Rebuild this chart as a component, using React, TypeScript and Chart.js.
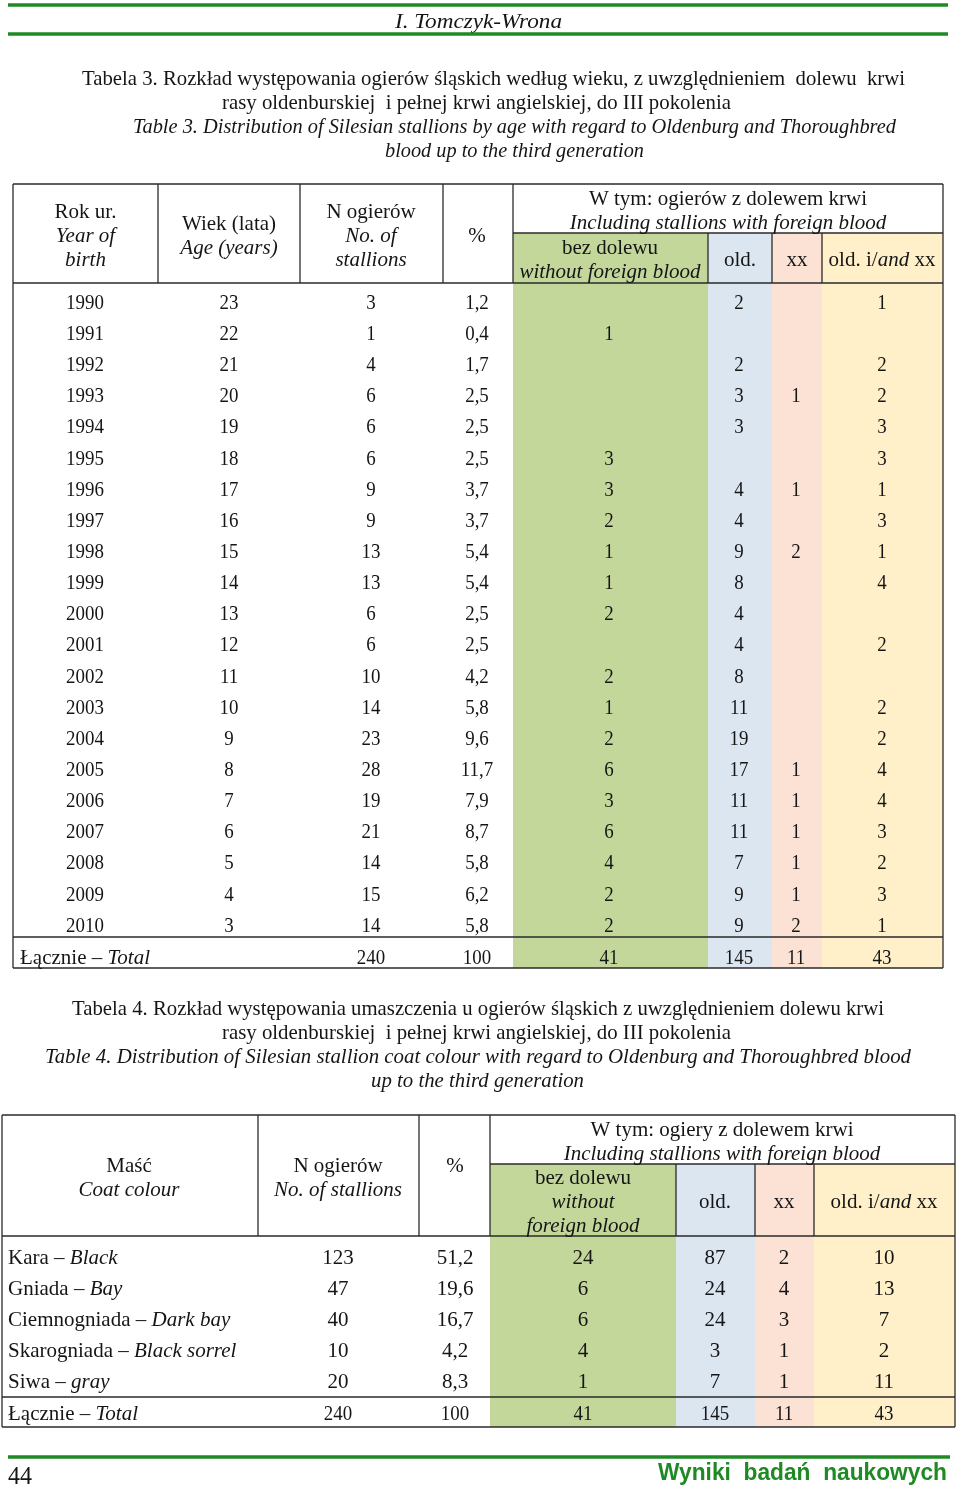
import React, { useEffect, useRef } from "react";
import { Chart, registerables } from "chart.js";

Chart.register(...registerables);

// ---------------- DATA ----------------
const pageAuthor = "I. Tomczyk-Wrona";
const pageNumber = "44";
const pageFooter = "Wyniki  badań  naukowych";

const t3Caption = [
  "Tabela 3. Rozkład występowania ogierów śląskich według wieku, z uwzględnieniem  dolewu  krwi",
  "rasy oldenburskiej  i pełnej krwi angielskiej, do III pokolenia",
  "Table 3. Distribution of Silesian stallions by age with regard to Oldenburg and Thoroughbred",
  "blood up to the third generation",
];
const t3Years = ["1990", "1991", "1992", "1993", "1994", "1995", "1996", "1997", "1998", "1999", "2000", "2001", "2002", "2003", "2004", "2005", "2006", "2007", "2008", "2009", "2010"];
const t3Ages = [23, 22, 21, 20, 19, 18, 17, 16, 15, 14, 13, 12, 11, 10, 9, 8, 7, 6, 5, 4, 3];
const t3N = [3, 1, 4, 6, 6, 6, 9, 9, 13, 13, 6, 6, 10, 14, 23, 28, 19, 21, 14, 15, 14];
const t3Pct = ["1,2", "0,4", "1,7", "2,5", "2,5", "2,5", "3,7", "3,7", "5,4", "5,4", "2,5", "2,5", "4,2", "5,8", "9,6", "11,7", "7,9", "8,7", "5,8", "6,2", "5,8"];
const t3Without = [null, 1, null, null, null, 3, 3, 2, 1, 1, 2, null, 2, 1, 2, 6, 3, 6, 4, 2, 2];
const t3Old = [2, null, 2, 3, 3, null, 4, 4, 9, 8, 4, 4, 8, 11, 19, 17, 11, 11, 7, 9, 9];
const t3XX = [null, null, null, 1, null, null, 1, null, 2, null, null, null, null, null, null, 1, 1, 1, 1, 1, 2];
const t3OldXX = [1, null, 2, 2, 3, 3, 1, 3, 1, 4, null, 2, null, 2, 2, 4, 4, 3, 2, 3, 1];
const t3Total = ["240", "100", "41", "145", "11", "43"];

const t4Caption = [
  "Tabela 4. Rozkład występowania umaszczenia u ogierów śląskich z uwzględnieniem dolewu krwi",
  "rasy oldenburskiej  i pełnej krwi angielskiej, do III pokolenia",
  "Table 4. Distribution of Silesian stallion coat colour with regard to Oldenburg and Thoroughbred blood",
  "up to the third generation",
];
const t4ColoursPl = ["Kara", "Gniada", "Ciemnogniada", "Skarogniada", "Siwa"];
const t4ColoursEn = ["Black", "Bay", "Dark bay", "Black sorrel", "gray"];
const t4N = [123, 47, 40, 10, 20];
const t4Pct = ["51,2", "19,6", "16,7", "4,2", "8,3"];
const t4Without = [24, 6, 6, 4, 1];
const t4Old = [87, 24, 24, 3, 7];
const t4XX = [2, 4, 3, 1, 1];
const t4OldXX = [10, 13, 7, 2, 11];
const t4Total = ["240", "100", "41", "145", "11", "43"];

// ---------------- STYLE / LAYOUT ----------------
const SERIF = '"Liberation Serif", "Times New Roman", serif';
const SANS = '"Liberation Sans", Arial, sans-serif';
const GREEN = "#1f8a23";
const INK = "#151515";
const LINE = "#2a2a2a";
const FILL_GREEN = "#c4d79b";
const FILL_BLUE = "#dce6f1";
const FILL_PINK = "#fce1d5";
const FILL_YELLOW = "#fff0c9";
const TEXT_DY = 2;
const BASE_SIZE = 21;

type Run = [string, boolean];

const pagePlugin = {
  id: "pagePlugin",
  afterDraw(chart: any) {
    const ctx: CanvasRenderingContext2D = chart.ctx;
    const xs = chart.scales.x;
    const ys = chart.scales.y;
    const X = (v: number) => xs.getPixelForValue(v);
    const Y = (v: number) => ys.getPixelForValue(v);

    const rect = (x0: number, y0: number, x1: number, y1: number, color: string) => {
      ctx.fillStyle = color;
      ctx.fillRect(X(x0), Y(y0), X(x1) - X(x0), Y(y1) - Y(y0));
    };
    const hline = (x0: number, x1: number, y: number, w = 1.3, color = LINE) => {
      ctx.strokeStyle = color;
      ctx.lineWidth = w;
      ctx.beginPath();
      ctx.moveTo(X(x0), Y(y));
      ctx.lineTo(X(x1), Y(y));
      ctx.stroke();
    };
    const vline = (x: number, y0: number, y1: number, w = 1.3, color = LINE) => {
      ctx.strokeStyle = color;
      ctx.lineWidth = w;
      ctx.beginPath();
      ctx.moveTo(X(x), Y(y0));
      ctx.lineTo(X(x), Y(y1));
      ctx.stroke();
    };
    const runs = (
      rs: Run[],
      x: number,
      y: number,
      align: "left" | "center" = "center",
      size = BASE_SIZE,
      fit?: number,
      family = SERIF,
      color = INK,
      bold = false,
      scaleX = 1
    ) => {
      const fontOf = (it: boolean) => `${it ? "italic " : ""}${bold ? "bold " : ""}${size}px ${family}`;
      let total = 0;
      const widths = rs.map(([s, it]) => {
        ctx.font = fontOf(it);
        const w = ctx.measureText(s).width;
        total += w;
        return w;
      });
      const sx = fit ? fit / total : scaleX;
      const px = X(x);
      const start = align === "center" ? px - (total * sx) / 2 : px;
      ctx.save();
      ctx.fillStyle = color;
      ctx.textBaseline = "middle";
      ctx.textAlign = "left";
      ctx.translate(start, Y(y + TEXT_DY));
      ctx.scale(sx, 1);
      let cx = 0;
      rs.forEach(([s, it], i) => {
        ctx.font = fontOf(it);
        ctx.fillText(s, cx, 0);
        cx += widths[i];
      });
      ctx.restore();
    };
    const txt = (s: string | number | null, x: number, y: number, it = false) => {
      if (s === null || s === undefined) return;
      runs([[String(s), it]], x, y);
    };
    const num = (s: string | number | null, x: number, y: number) => {
      if (s === null || s === undefined) return;
      runs([[String(s), false]], x, y, "center", 22, undefined, SERIF, INK, false, 0.86);
    };
    const totalLabel = (x: number, y: number) =>
      runs([["Łącznie – ", false], ["Total", true]], x, y, "left", 22, 130);

    // ---- page header ----
    hline(8, 948, 5, 3.5, GREEN);
    runs([[pageAuthor, true]], 395, 20, "left", 22, 167);
    hline(8, 948, 34, 3.5, GREEN);

    // ---- Table 3 caption ----
    runs([[t3Caption[0], false]], 82, 77, "left", 22, 823);
    runs([[t3Caption[1], false]], 222, 101, "left", 22, 509);
    runs([[t3Caption[2], true]], 133, 125, "left", 22, 763);
    runs([[t3Caption[3], true]], 385, 149, "left", 22, 259);

    // ---- Table 3 ----
    {
      const L = 13, c1 = 158, c2 = 300, c3 = 443, c4 = 513, c5 = 708, c6 = 772, c7 = 822, R = 943;
      const top = 184, mid = 233, hb = 283, totTop = 937, bot = 968;
      rect(c4, mid, c5, bot, FILL_GREEN);
      rect(c5, mid, c6, bot, FILL_BLUE);
      rect(c6, mid, c7, bot, FILL_PINK);
      rect(c7, mid, R, bot, FILL_YELLOW);
      hline(L, R, top);
      hline(c4, R, mid);
      hline(L, R, hb);
      hline(L, R, totTop);
      hline(L, R, bot);
      vline(L, top, bot);
      vline(R, top, bot);
      [c1, c2, c3, c4].forEach((c) => vline(c, top, hb));
      [c5, c6, c7].forEach((c) => vline(c, mid, hb));

      // headers
      const hx = [85.5, 229, 371, 477];
      txt("Rok ur.", hx[0], 210);
      txt("Year of", hx[0], 234, true);
      txt("birth", hx[0], 258, true);
      txt("Wiek (lata)", hx[1], 222);
      txt("Age (years)", hx[1], 246, true);
      txt("N ogierów", hx[2], 210);
      txt("No. of", hx[2], 234, true);
      txt("stallions", hx[2], 258, true);
      txt("%", hx[3], 234);
      txt("W tym: ogierów z dolewem krwi", 728, 197);
      txt("Including stallions with foreign blood", 728, 221, true);
      txt("bez dolewu", 610, 246);
      txt("without foreign blood", 610, 270, true);
      txt("old.", 740, 258);
      txt("xx", 797, 258);
      runs([["old. i/", false], ["and", true], [" xx", false]], 882, 258);

      const cols = [85, 229, 371, 477, 609, 739, 796, 882];
      const y0 = 301, step = 31.15;
      t3Years.forEach((yr, i) => {
        const y = y0 + i * step;
        num(yr, cols[0], y);
        num(t3Ages[i], cols[1], y);
        num(t3N[i], cols[2], y);
        num(t3Pct[i], cols[3], y);
        num(t3Without[i], cols[4], y);
        num(t3Old[i], cols[5], y);
        num(t3XX[i], cols[6], y);
        num(t3OldXX[i], cols[7], y);
      });
      const ty = 956;
      totalLabel(20, ty);
      t3Total.forEach((v, i) => num(v, cols[i + 2], ty));
    }

    // ---- Table 4 caption ----
    runs([[t4Caption[0], false]], 72, 1007, "left", 22, 812);
    runs([[t4Caption[1], false]], 222, 1031, "left", 22, 509);
    runs([[t4Caption[2], true]], 45, 1055, "left", 22, 866);
    runs([[t4Caption[3], true]], 371, 1079, "left", 22, 213);

    // ---- Table 4 ----
    {
      const L = 2, c1 = 258, c2 = 419, c3 = 490, c4 = 676, c5 = 755, c6 = 814, R = 955;
      const top = 1115, mid = 1164, hb = 1236, totTop = 1397, bot = 1427;
      rect(c3, mid, c4, bot, FILL_GREEN);
      rect(c4, mid, c5, bot, FILL_BLUE);
      rect(c5, mid, c6, bot, FILL_PINK);
      rect(c6, mid, R, bot, FILL_YELLOW);
      hline(L, R, top);
      hline(c3, R, mid);
      hline(L, R, hb);
      hline(L, R, totTop);
      hline(L, R, bot);
      vline(L, top, bot);
      vline(R, top, bot);
      [c1, c2, c3].forEach((c) => vline(c, top, hb));
      [c4, c5, c6].forEach((c) => vline(c, mid, hb));

      txt("Maść", 129, 1164);
      txt("Coat colour", 129, 1188, true);
      txt("N ogierów", 338, 1164);
      txt("No. of stallions", 338, 1188, true);
      txt("%", 455, 1164);
      txt("W tym: ogiery z dolewem krwi", 722, 1128);
      txt("Including stallions with foreign blood", 722, 1152, true);
      txt("bez dolewu", 583, 1176);
      txt("without", 583, 1200, true);
      txt("foreign blood", 583, 1224, true);
      txt("old.", 715, 1200);
      txt("xx", 784, 1200);
      runs([["old. i/", false], ["and", true], [" xx", false]], 884, 1200);

      const cols = [338, 455, 583, 715, 784, 884];
      const y0 = 1256, step = 31;
      t4ColoursPl.forEach((pl, i) => {
        const y = y0 + i * step;
        runs([[pl + " – ", false], [t4ColoursEn[i], true]], 8, y, "left");
        txt(t4N[i], cols[0], y);
        txt(t4Pct[i], cols[1], y);
        txt(t4Without[i], cols[2], y);
        txt(t4Old[i], cols[3], y);
        txt(t4XX[i], cols[4], y);
        txt(t4OldXX[i], cols[5], y);
      });
      const ty = 1412;
      totalLabel(8, ty);
      t4Total.forEach((v, i) => num(v, cols[i], ty));
    }

    // ---- footer ----
    hline(8, 950, 1457, 3.5, GREEN);
    runs([[pageNumber, false]], 8, 1475, "left", 25, 24);
    runs([[pageFooter, false]], 658, 1471, "left", 24, 289, SANS, GREEN, true);
  },
};

export default function App() {
  const ref = useRef<HTMLCanvasElement | null>(null);
  useEffect(() => {
    if (!ref.current) return;
    const chart = new Chart(ref.current, {
      type: "scatter",
      data: { datasets: [] },
      options: {
        animation: false,
        responsive: false,
        devicePixelRatio: 1,
        layout: { padding: 0 },
        plugins: { legend: { display: false }, tooltip: { enabled: false }, title: { display: false } },
        scales: {
          x: { type: "linear", min: 0, max: 960, display: false },
          y: { type: "linear", min: 0, max: 1490, reverse: true, display: false },
        },
      },
      plugins: [pagePlugin],
    });
    return () => chart.destroy();
  }, []);
  return (
    <div style={{ position: "absolute", left: 0, top: 0, width: 960, height: 1490, background: "#fff" }}>
      <canvas ref={ref} width={960} height={1490} style={{ display: "block", width: 960, height: 1490 }} />
    </div>
  );
}
